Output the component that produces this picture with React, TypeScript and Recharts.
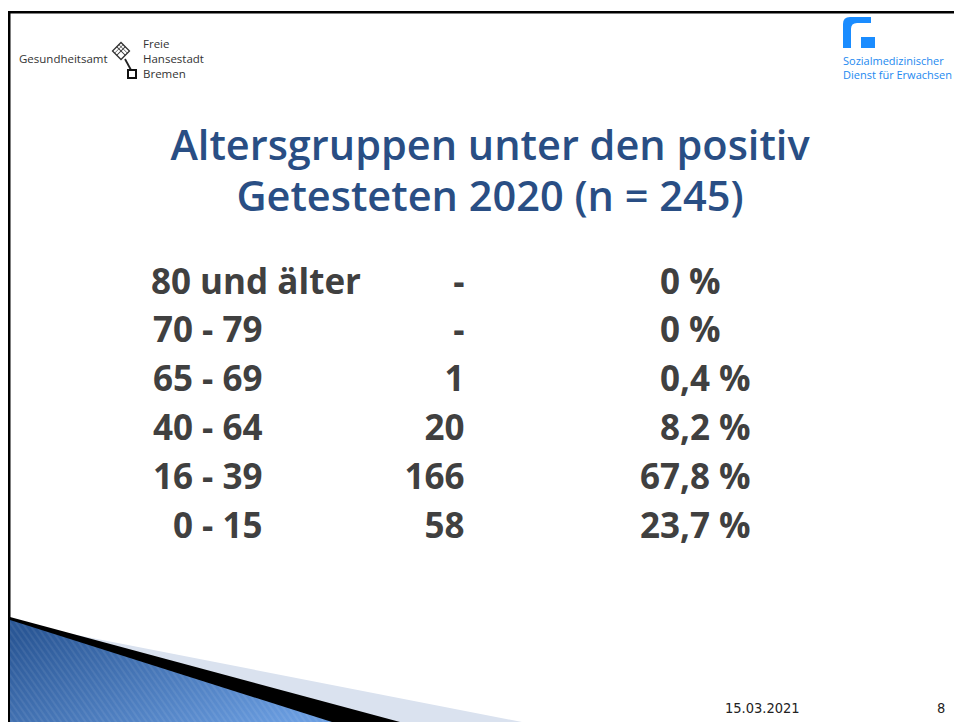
import { JSX } from 'react'
import { ScatterChart, Scatter, XAxis, YAxis } from 'recharts'

// Spalten der Tabelle
const columns = ['Altersgruppe', 'Anzahl', 'Anteil']

// Altersgruppen (von oben nach unten)
const ageGroups = ['80 und älter', '70 - 79', '65 - 69', '40 - 64', '16 - 39', '0 - 15']

// Anzahl positiv Getesteter (null = keine)
const counts: (number | null)[] = [null, null, 1, 20, 166, 58]

// Anteil in Prozent
const shares = [0, 0, 0.4, 8.2, 67.8, 23.7]

const titleLines = ['Altersgruppen unter den positiv', 'Getesteten 2020 (n = 245)']
const slideDate = '15.03.2021'
const slideNumber = '8'

const W = 954
const H = 722

const TABLE_FONT = "'Open Sans', 'Noto Sans', sans-serif"
const TABLE_COLOR = '#404040'

const labelData = ageGroups.map((g) => ({ column: columns[0], group: g, text: g }))
const countData = ageGroups.map((g, i) => ({
  column: columns[1],
  group: g,
  text: counts[i] == null ? '-' : String(counts[i])
}))
const shareData = ageGroups.map((g, i) => ({
  column: columns[2],
  group: g,
  text: shares[i] === 0 ? '0 %' : shares[i].toFixed(1).replace('.', ',') + ' %'
}))

const textProps = {
  fontFamily: TABLE_FONT,
  fontWeight: 700,
  fontSize: 35,
  fill: TABLE_COLOR
}

// Spalte 1: Bereiche am Bindestrich ausrichten
function LabelCell(props: any): JSX.Element {
  const { cx, cy, payload } = props
  const m = /^(\d+)( - .*)$/.exec(payload.text)
  const y = cy + 12.5
  if (!m) {
    return (
      <text x={cx} y={y} textAnchor="start" {...textProps}>
        {payload.text}
      </text>
    )
  }
  return (
    <text y={y} {...textProps}>
      <tspan x={cx + 42} textAnchor="end">{m[1]}</tspan>
      <tspan x={cx + 42} textAnchor="start" style={{ whiteSpace: 'pre' }}>{m[2]}</tspan>
    </text>
  )
}

// Spalte 2: rechtsbündig
function CountCell(props: any): JSX.Element {
  const { cx, cy, payload } = props
  return (
    <text x={cx + 49} y={cy + 12.5} textAnchor="end" {...textProps}>
      {payload.text}
    </text>
  )
}

// Spalte 3: am Komma ausgerichtet
function ShareCell(props: any): JSX.Element {
  const { cx, cy, payload } = props
  const m = /^(\d+)(.*)$/.exec(payload.text)
  const intPart = m ? m[1] : payload.text
  const rest = m ? m[2] : ''
  return (
    <text y={cy + 12.5} {...textProps}>
      <tspan x={cx} textAnchor="end">{intPart}</tspan>
      <tspan x={cx} textAnchor="start" style={{ whiteSpace: 'pre' }}>{rest}</tspan>
    </text>
  )
}

function Decorations(): JSX.Element {
  return (
    <svg width={W} height={H} style={{ position: 'absolute', left: 0, top: 0 }}>
      <defs>
        <linearGradient id="blueGrad" x1="0" y1="0.2" x2="1" y2="0.8">
          <stop offset="0" stopColor="#2a5796" />
          <stop offset="1" stopColor="#6a9de0" />
        </linearGradient>
        <pattern
          id="stripes"
          width="5"
          height="5"
          patternUnits="userSpaceOnUse"
          patternTransform="rotate(-35)"
        >
          <rect width="2" height="5" fill="rgba(255,255,255,0.07)" />
        </pattern>
      </defs>

      {/* Rahmen */}
      <rect x={8} y={11} width={W - 8} height={2.5} fill="#000" />
      <rect x={8} y={11} width={2.5} height={H - 11} fill="#000" />

      {/* Logo links */}
      <g fontFamily="'Open Sans', sans-serif" fontSize={11.5} fill="#333">
        <text x={19} y={63}>Gesundheitsamt</text>
        <text x={143} y={48}>Freie</text>
        <text x={143} y={63}>Hansestadt</text>
        <text x={143} y={78}>Bremen</text>
      </g>
      <g>
        <g transform="translate(121 51) rotate(45)">
          <rect x={-6} y={-6} width={12} height={12} fill="none" stroke="#333" strokeWidth={1.3} />
          <line x1={-6} y1={0} x2={6} y2={0} stroke="#333" strokeWidth={1} />
          <line x1={0} y1={-6} x2={0} y2={6} stroke="#333" strokeWidth={1} />
          <line x1={-6} y1={-3} x2={6} y2={-3} stroke="#333" strokeWidth={0.7} />
          <line x1={-3} y1={-6} x2={-3} y2={6} stroke="#333" strokeWidth={0.7} />
        </g>
        <line x1={125} y1={59} x2={131} y2={70} stroke="#222" strokeWidth={1.8} />
        <rect x={128} y={70} width={8} height={8} fill="none" stroke="#111" strokeWidth={2} />
      </g>

      {/* Logo rechts */}
      <g fill="#1a8cff">
        <path d="M843,48 L843,24 Q843,17 850,17 L871,17 L871,23 L857,23 Q851,23 851,29 L851,48 Z" />
        <rect x={861} y={37} width={14} height={11} />
      </g>
      <g fontFamily="'Open Sans', sans-serif" fontSize={11} fill="#2389f0">
        <text x={843} y={65}>Sozialmedizinischer</text>
        <text x={843} y={79}>Dienst für Erwachsen</text>
      </g>

      {/* Titel */}
      <g
        fontFamily="'Open Sans', sans-serif"
        fontWeight={600}
        fontSize={41.5}
        fill="#294e84"
        textAnchor="middle"
      >
        <text x={490} y={160}>{titleLines[0]}</text>
        <text x={490} y={211}>{titleLines[1]}</text>
      </g>

      {/* Dekor unten links */}
      <polygon points="10,622 522,722 10,722" fill="#dae2ef" />
      <polygon points="10,617 400,722 10,722" fill="#000" />
      <polygon points="10,620 332,722 10,722" fill="url(#blueGrad)" />
      <polygon points="10,620 332,722 10,722" fill="url(#stripes)" />

      {/* Fußzeile */}
      <g fontFamily="'Liberation Sans Narrow', 'DejaVu Sans Condensed', 'Liberation Sans', sans-serif" fontSize={14.5} fill="#222">
        <text x={725} y={713}>{slideDate}</text>
        <text x={937} y={713}>{slideNumber}</text>
      </g>
    </svg>
  )
}

export default function App(): JSX.Element {
  return (
    <div
      style={{
        position: 'absolute',
        left: 0,
        top: 0,
        width: W,
        height: H,
        overflow: 'hidden',
        background: '#fff'
      }}
    >
      <Decorations />
      <div style={{ position: 'absolute', left: 0, top: 0 }}>
        <ScatterChart
          width={W}
          height={H}
          margin={{ top: 281, bottom: H - 525, left: 151, right: W - 680 }}
        >
          <XAxis
            dataKey="column"
            type="category"
            scale="point"
            allowDuplicatedCategory={false}
            hide
          />
          <YAxis
            dataKey="group"
            type="category"
            scale="point"
            allowDuplicatedCategory={false}
            reversed
            hide
          />
          <Scatter data={labelData} shape={LabelCell} isAnimationActive={false} />
          <Scatter data={countData} shape={CountCell} isAnimationActive={false} />
          <Scatter data={shareData} shape={ShareCell} isAnimationActive={false} />
        </ScatterChart>
      </div>
    </div>
  )
}
